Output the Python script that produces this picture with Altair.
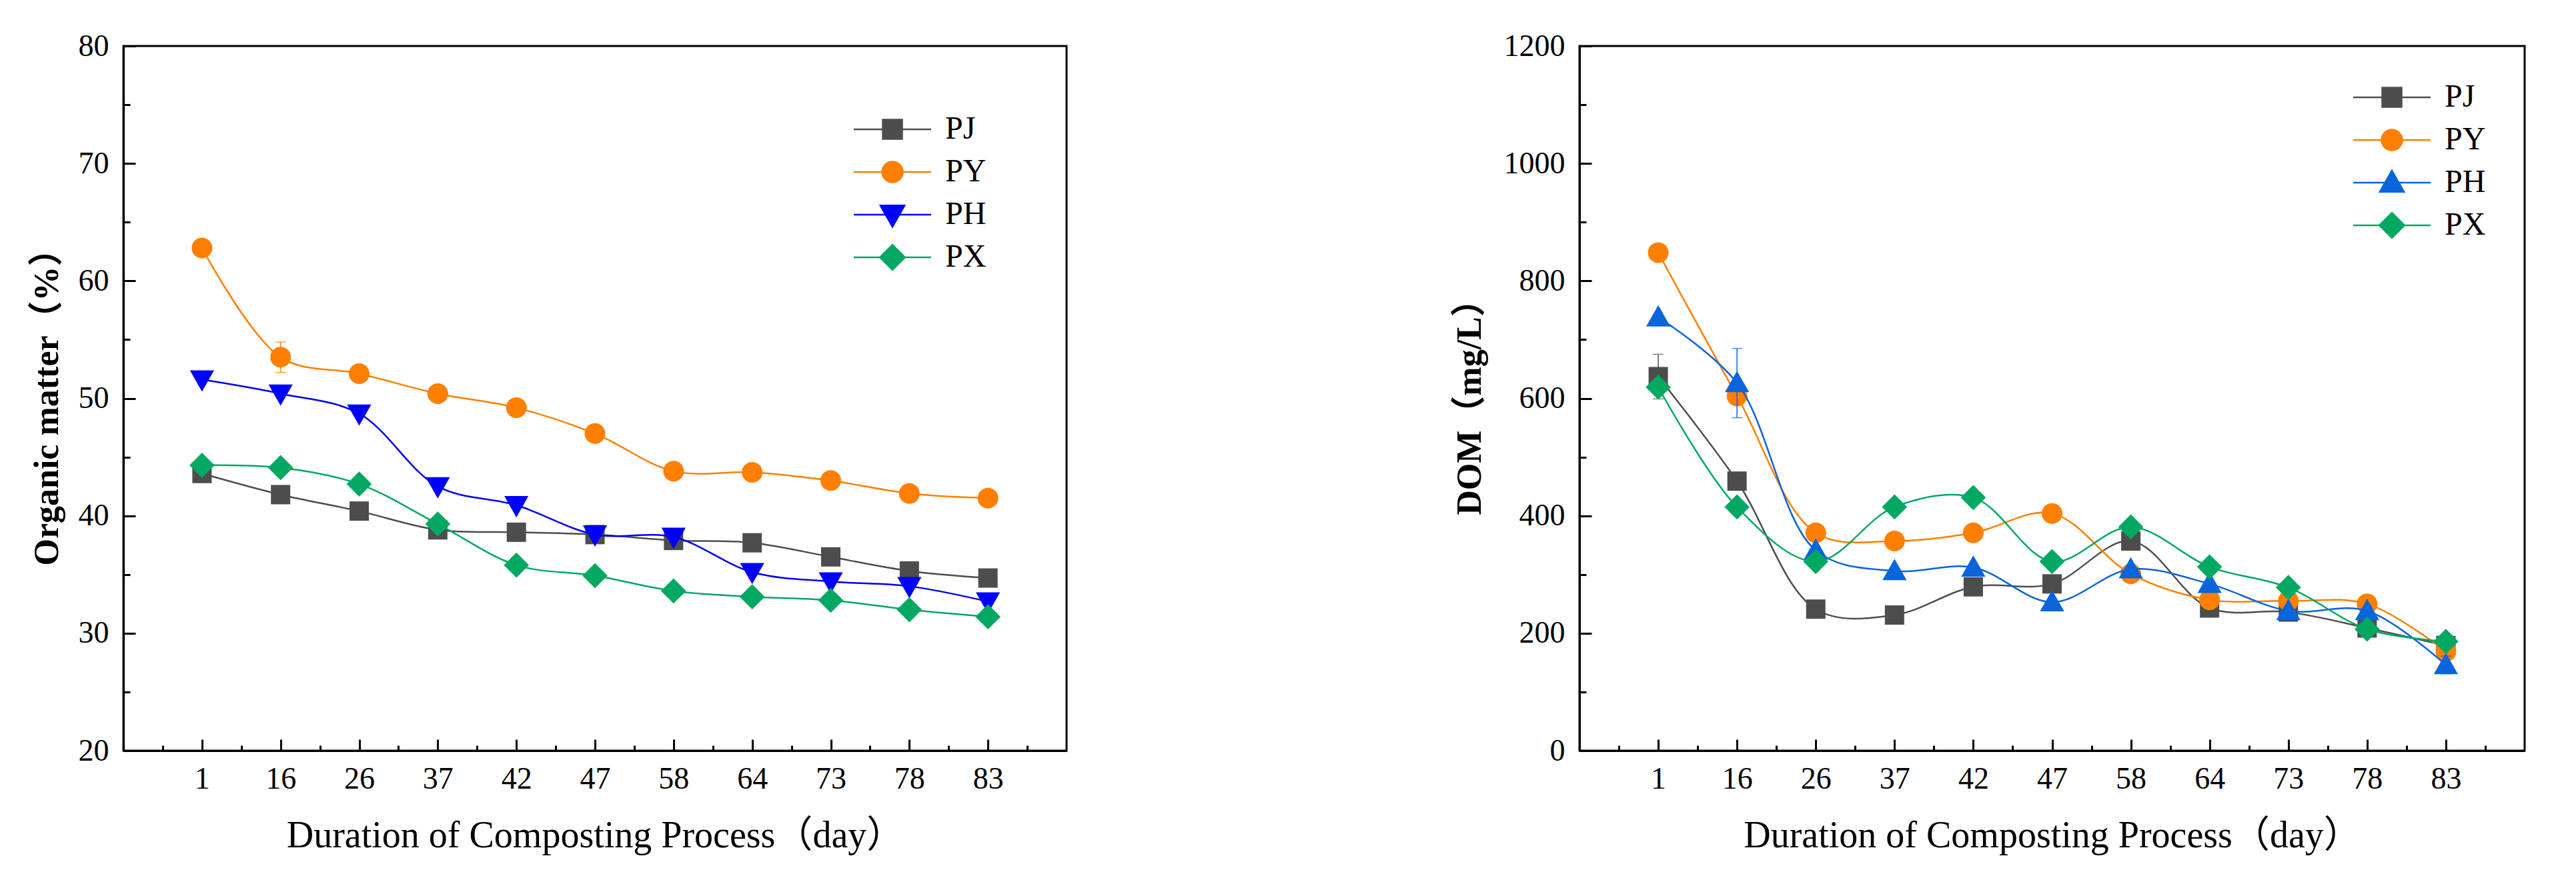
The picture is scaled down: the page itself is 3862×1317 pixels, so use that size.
import altair as alt
import pandas as pd

# ---------------- data ----------------
days = ["1", "16", "26", "37", "42", "47", "58", "64", "73", "78", "83"]
series = ["PJ", "PY", "PH", "PX"]

om_pj = [43.6, 41.8, 40.4, 38.8, 38.6, 38.4, 37.9, 37.7, 36.5, 35.3, 34.7]
om_py = [62.8, 53.5, 52.1, 50.4, 49.2, 47.0, 43.8, 43.7, 43.0, 41.9, 41.5]
om_ph = [51.6, 50.4, 48.7, 42.5, 40.9, 38.4, 38.2, 35.2, 34.4, 34.0, 32.7]
om_px = [44.3, 44.1, 42.7, 39.3, 35.8, 34.9, 33.6, 33.1, 32.8, 32.0, 31.4]
om_py_err = [0, 1.3, 0, 0, 0, 0, 0, 0, 0, 0, 0]

dom_pj = [637, 459, 241, 231, 279, 284, 357, 243, 236, 209, 179]
dom_py = [848, 604, 371, 357, 371, 404, 301, 257, 255, 250, 169]
dom_ph = [738, 626, 341, 306, 312, 253, 309, 284, 238, 238, 146]
dom_px = [619, 415, 322, 415, 431, 322, 381, 313, 278, 207, 186]
dom_pj_err = [38, 0, 0, 0, 0, 0, 0, 0, 0, 0, 0]
dom_ph_err = [0, 59, 0, 0, 0, 0, 0, 0, 0, 0, 15]

left_colors = ["#4d4d4d", "#ff7f00", "#0000ff", "#00a862"]
right_colors = ["#4d4d4d", "#ff7f00", "#0a64dc", "#00a862"]

# ---------------- shapes ----------------
SQUARE = "M-1,-1H1V1H-1Z"
CIRCLE = "M-1.07,0A1.07,1.07,0,1,0,1.07,0A1.07,1.07,0,1,0,-1.07,0Z"
TRI_DOWN = "M-1.25,-0.95H1.25L0,1.25Z"
TRI_UP = "M-1.25,0.95H1.25L0,-1.25Z"
DIAMOND = "M0,-1.3L1.3,0L0,1.3L-1.3,0Z"
LEG_LINE = "M-4,0H4"

FONT = "Liberation Serif, Noto Sans CJK SC"
SYM = 841


def make_df(vals, errs):
    rows = []
    for s in series:
        e = errs.get(s, [0] * len(days))
        for i, d in enumerate(days):
            v = vals[s][i]
            rows.append(dict(series=s, idx=i, day=d, value=v, lo=v - e[i], hi=v + e[i], err=e[i]))
    return pd.DataFrame(rows)


days_js = "[" + ",".join("'%s'" % d for d in days) + "]"
x_vals = [i * 0.5 - 0.5 for i in range(2 * len(days) + 1)]


def x_enc():
    return alt.X(
        "idx:Q",
        scale=alt.Scale(domain=[-1, len(days)], nice=False, zero=False),
        axis=alt.Axis(
            title="Duration of Composting Process（day）",
            values=x_vals,
            labelExpr="datum.value % 1 == 0 ? " + days_js + "[datum.value] : ''",
            tickSize={"expr": "datum.value % 1 == 0 ? -17 : -8"},
            labelPadding=37,
            labelFont=FONT,
            labelFontSize=46,
            labelColor="black",
            titleFont=FONT,
            titlePadding=26,
            titleFontSize=56,
            titleFontWeight="normal",
            grid=False,
            labelOverlap=False,
            labelFlush=False,
            labelBound=False,
        ),
    )


def y_enc(field, title, lo, hi, major, minor, tpad):
    return alt.Y(
        field,
        scale=alt.Scale(domain=[lo, hi], nice=False, zero=False),
        axis=alt.Axis(
            title=title,
            values=list(range(lo, hi + 1, minor)),
            format="d",
            labelExpr="datum.value %% %d == 0 ? format(datum.value, 'd') : ''" % major,
            tickSize={"expr": "datum.value %% %d == 0 ? -18 : -10" % major},
            labelPadding=40,
            labelFont=FONT,
            labelFontSize=46,
            labelColor="black",
            titleFont=FONT,
            titlePadding=tpad,
            titleFontSize=52,
            titleFontWeight="bold",
            grid=False,
            labelOverlap=False,
            labelFlush=False,
            labelBound=False,
        ),
    )


def panel(df, colors, shapes, yfield_title, lo, hi, major, minor, tpad, leg_x, leg_y, width, height):
    layers = []
    for s, c, shp in zip(series, colors, shapes):
        sub = df[df.series == s]
        base = alt.Chart(sub)
        line = base.mark_line(interpolate="catmull-rom", strokeWidth=2.5, color=c).encode(
            x=x_enc(), y=y_enc("value:Q", yfield_title, lo, hi, major, minor, tpad)
        )
        layers.append(line)
        if (sub.err > 0).any():
            eb = alt.Chart(sub[sub.err > 0]).mark_errorbar(
                ticks={"size": 16}, thickness=1.5, color=c
            ).encode(
                x=x_enc(),
                y=y_enc("lo:Q", yfield_title, lo, hi, major, minor, tpad),
                y2="hi:Q",
            )
            layers.append(eb)
        pts = base.mark_point(shape=shp, filled=True, size=SYM, opacity=1, color=c).encode(
            x=x_enc(), y=y_enc("value:Q", yfield_title, lo, hi, major, minor, tpad)
        )
        layers.append(pts)

    leg_paths = [LEG_LINE + p for p in shapes]
    lg = dict(
        orient="none", legendX=leg_x, legendY=leg_y, title=None,
        labelFont=FONT, labelFontSize=48, labelColor="black",
        symbolSize=SYM, symbolStrokeWidth=2.5, symbolOpacity=1,
        labelOffset=55, rowPadding=16, padding=0,
    )
    legend_layer = alt.Chart(df).mark_point(filled=True, opacity=1, strokeWidth=2.5).encode(
        x=x_enc(),
        y=y_enc("value:Q", yfield_title, lo, hi, major, minor, tpad),
        fill=alt.Fill("series:N", scale=alt.Scale(domain=series, range=colors), legend=alt.Legend(**lg)),
        stroke=alt.Stroke("series:N", scale=alt.Scale(domain=series, range=colors), legend=alt.Legend(**lg)),
        shape=alt.Shape("series:N", scale=alt.Scale(domain=series, range=leg_paths), legend=alt.Legend(**lg)),
    ).transform_filter("false")
    layers.append(legend_layer)
    return alt.layer(*layers).properties(width=width, height=height)


om_df = make_df({"PJ": om_pj, "PY": om_py, "PH": om_ph, "PX": om_px}, {"PY": om_py_err})
dom_df = make_df({"PJ": dom_pj, "PY": dom_py, "PH": dom_ph, "PX": dom_px}, {"PJ": dom_pj_err, "PH": dom_ph_err})

left = panel(om_df, left_colors, [SQUARE, CIRCLE, TRI_DOWN, DIAMOND], "Organic matter（%）",
             20, 80, 10, 5, 20, 1129, 101, 1414, 1057)
right = panel(dom_df, right_colors, [SQUARE, CIRCLE, TRI_UP, DIAMOND], "DOM（mg/L）",
              0, 1200, 200, 100, 24, 1194, 53, 1417, 1057)

chart = alt.hconcat(left, right, spacing=574).resolve_scale(
    x="independent", y="independent", fill="independent", stroke="independent", shape="independent"
).resolve_legend(fill="independent", stroke="independent", shape="independent").properties(
    padding={"left": 34, "top": 36, "right": 5, "bottom": 5}
).configure(background="white").configure_view(
    stroke="black", strokeWidth=3
).configure_axis(
    labelFont=FONT, labelFontSize=46, labelColor="black",
    titleFont=FONT, titleColor="black",
    domainColor="black", domainWidth=3, tickColor="black", tickWidth=3,
)

chart.save("out.html", embed_options={"renderer": "svg", "actions": False})
